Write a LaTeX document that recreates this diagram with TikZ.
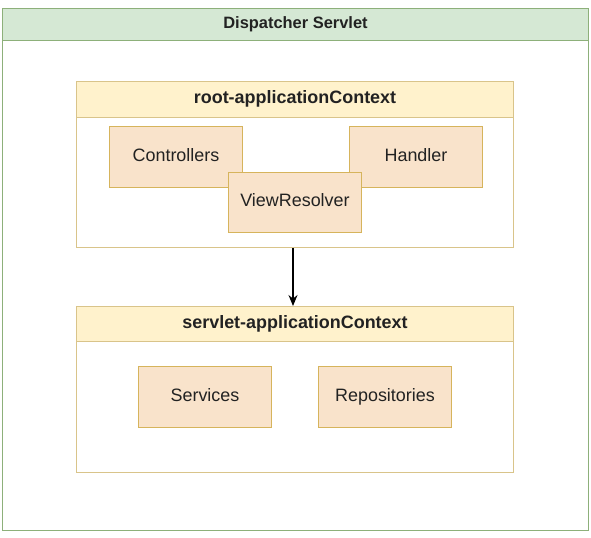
\documentclass[tikz,border=0pt]{standalone}
\usepackage{fontspec}
\setmainfont{Liberation Sans}
\usetikzlibrary{arrows.meta,positioning}
\definecolor{dsgreen}{HTML}{D5E8D4}
\definecolor{dsgreenline}{HTML}{8DB07A}
\definecolor{ctxyellow}{HTML}{FFF2CC}
\definecolor{ctxline}{HTML}{D9C48A}
\definecolor{beanfill}{HTML}{F9E3CB}
\definecolor{beanline}{HTML}{D6B45C}
\definecolor{txtgray}{HTML}{222222}

\begin{document}
\begin{tikzpicture}[x=1bp, y=-1bp,
  every node/.style={text=txtgray, text height=12.5bp, text depth=3.5bp},
  ctxbox/.style={draw=ctxline, line width=1pt, fill=white, minimum width=437bp,
               minimum height=166bp, anchor=north west},
  ctxhead/.style={draw=ctxline, line width=1pt, fill=ctxyellow, minimum width=437bp,
               minimum height=36bp, anchor=north west,
               font=\fontsize{18}{20}\selectfont\bfseries},
  bean/.style={draw=beanline, line width=1pt, fill=beanfill, minimum width=133bp,
               minimum height=61bp, anchor=north west,
               font=\fontsize{18}{20}\selectfont},
  arr/.style={-{Stealth[length=11bp, width=9bp]}, line width=1.2pt, black}]
\useasboundingbox (0,0) rectangle (591,538);
% outer servlet
\node[draw=dsgreenline, line width=1pt, fill=white, minimum width=586bp,
      minimum height=522bp, anchor=north west] (servlet) at (2,8) {};
\node[draw=dsgreenline, line width=1pt, fill=dsgreen, minimum width=586bp,
      minimum height=32bp, anchor=north west,
      font=\fontsize{16.5}{19}\selectfont\bfseries] (servlethead) at (2,8) {Dispatcher Servlet};
% root context
\node[ctxbox] (root) at (76,81) {};
\node[ctxhead] (roothead) at (76,81) {root-applicationContext};
\node[bean] (ctrl) at (109,126) {Controllers};
\node[bean] (handler) at (349,126) {Handler};
\node[bean, minimum height=60bp] (viewres) at (228,172) {ViewResolver};
% servlet context
\node[ctxbox] (web) at (76,306) {};
\node[ctxhead, minimum height=35bp] (webhead) at (76,306) {servlet-applicationContext};
\node[bean] (services) at (138,366) {Services};
\node[bean] (repos) at (318,366) {Repositories};
\draw[arr] (root.south -| 293,0) -- (webhead.north -| 293,0);
\end{tikzpicture}
\end{document}
